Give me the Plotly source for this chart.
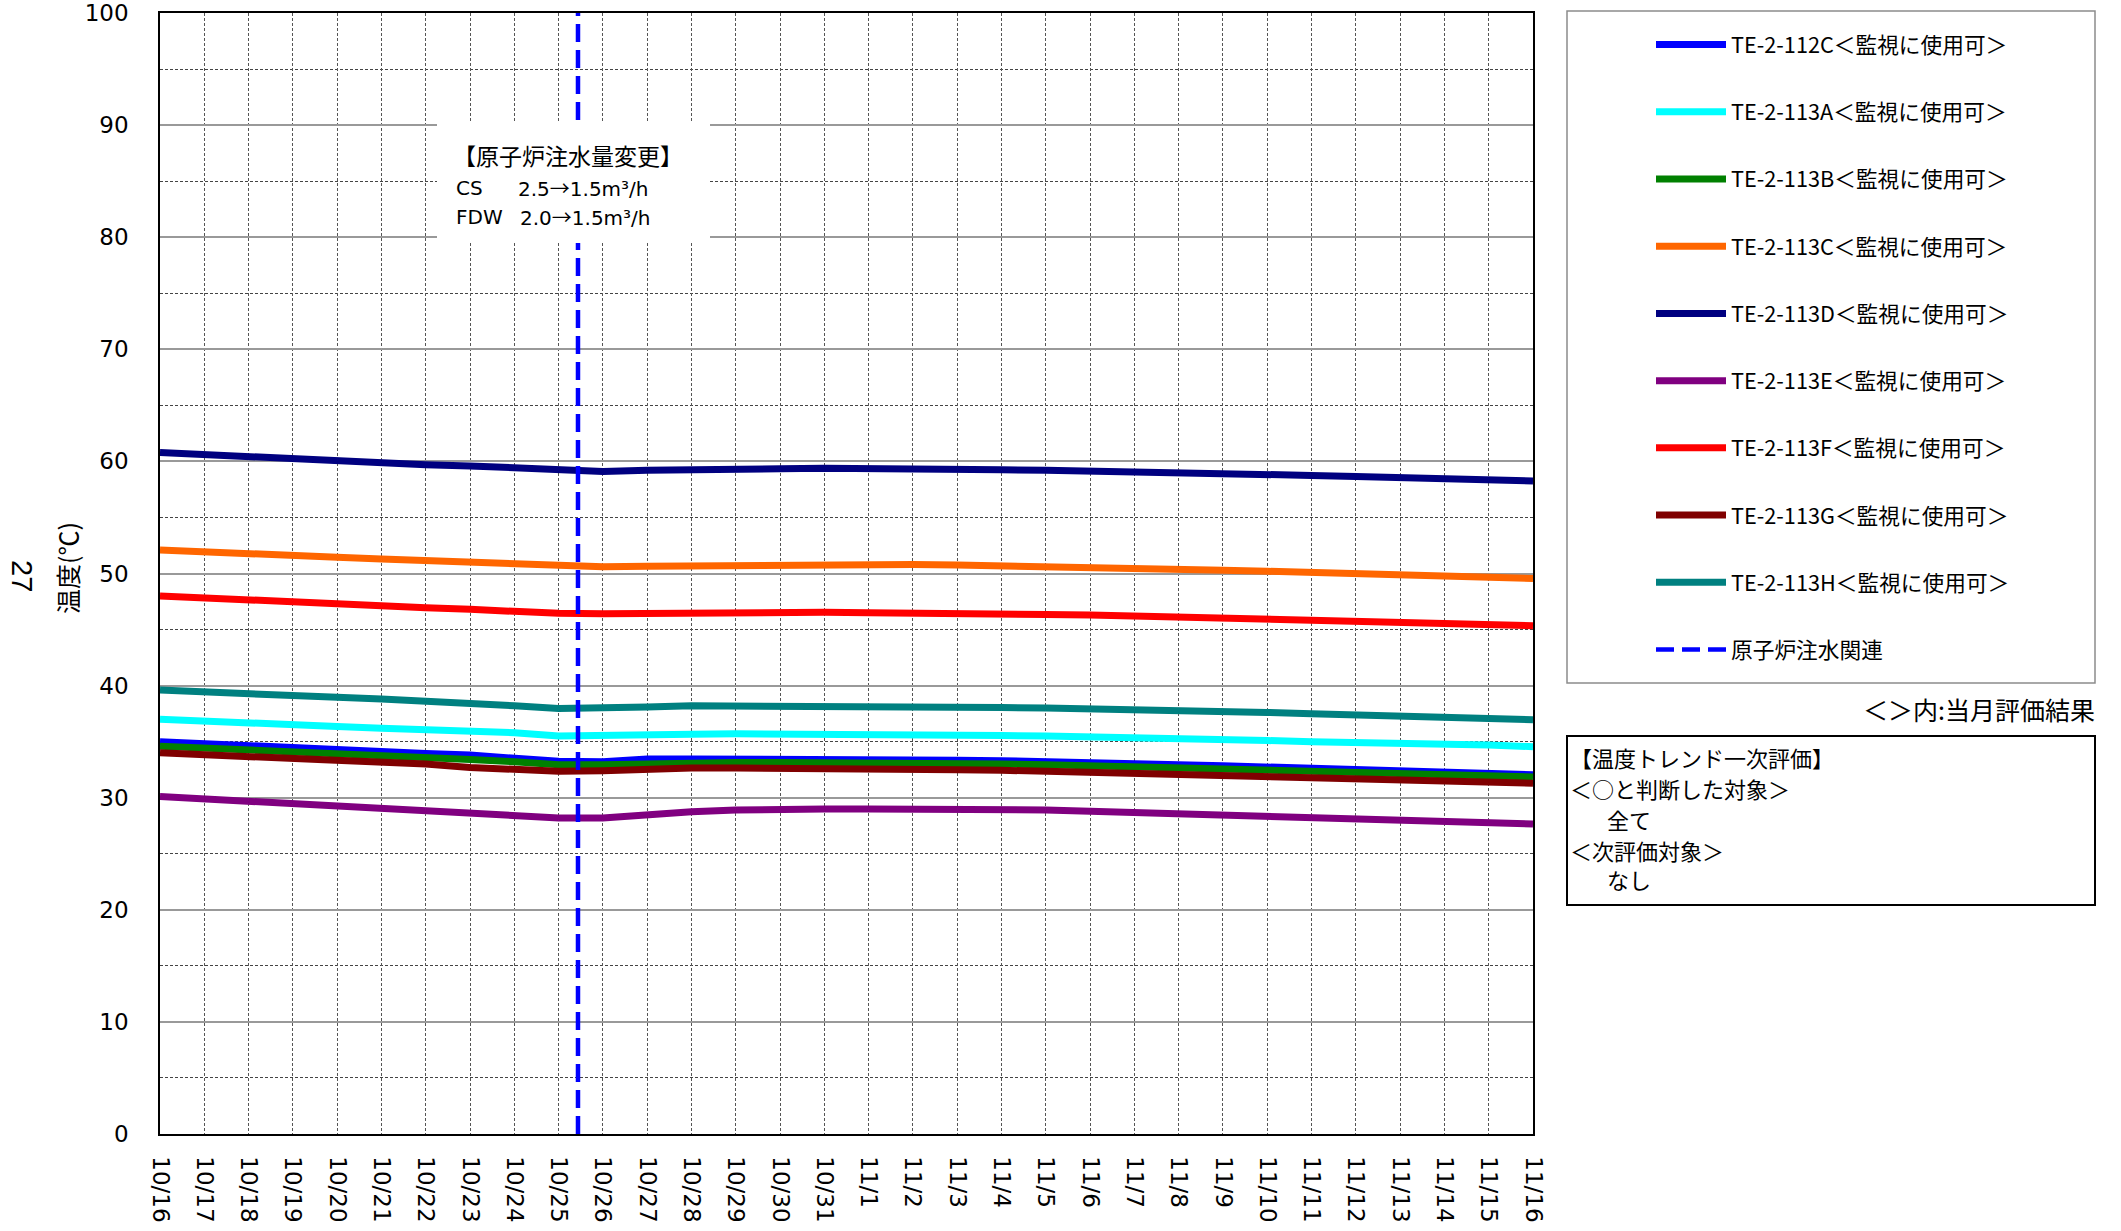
import pandas as pd
import plotly.graph_objects as go

# ---------------- data ----------------
dates = pd.date_range("2013-10-16", "2013-11-16", freq="D")
tick_labels = [f"{d.month}/{d.day}" for d in dates]
y_ticks = [0, 10, 20, 30, 40, 50, 60, 70, 80, 90, 100]

te_112c = [35.0, 34.8, 34.6, 34.45, 34.3, 34.1, 33.95, 33.8, 33.5, 33.25, 33.2, 33.45, 33.45, 33.45, 33.5, 33.5,
           33.45, 33.4, 33.35, 33.3, 33.25, 33.15, 33.05, 32.95, 32.85, 32.75, 32.6, 32.5, 32.4, 32.3, 32.15, 32.05]
te_113a = [37.0, 36.8, 36.65, 36.5, 36.35, 36.2, 36.05, 36.0, 35.8, 35.5, 35.5, 35.6, 35.65, 35.7, 35.7, 35.7,
           35.7, 35.65, 35.6, 35.55, 35.5, 35.45, 35.4, 35.35, 35.2, 35.1, 35.0, 34.95, 34.9, 34.8, 34.7, 34.55]
te_113b = [34.6, 34.45, 34.25, 34.1, 33.95, 33.8, 33.6, 33.4, 33.2, 32.95, 32.95, 33.05, 33.1, 33.15, 33.15, 33.15,
           33.15, 33.1, 33.05, 33.0, 32.95, 32.85, 32.75, 32.65, 32.55, 32.45, 32.35, 32.25, 32.15, 32.05, 31.95, 31.85]
te_113c = [52.1, 51.9, 51.8, 51.6, 51.45, 51.3, 51.15, 51.0, 50.85, 50.65, 50.6, 50.65, 50.7, 50.75, 50.8, 50.8,
           50.8, 50.8, 50.75, 50.7, 50.65, 50.55, 50.45, 50.4, 50.3, 50.2, 50.1, 50.0, 49.9, 49.8, 49.65, 49.55]
te_113d = [60.8, 60.6, 60.4, 60.2, 60.0, 59.9, 59.7, 59.6, 59.4, 59.2, 59.1, 59.2, 59.3, 59.3, 59.35, 59.4,
           59.4, 59.35, 59.3, 59.25, 59.2, 59.15, 59.05, 59.0, 58.9, 58.85, 58.75, 58.65, 58.55, 58.45, 58.35, 58.25]
te_113e = [30.1, 29.9, 29.7, 29.5, 29.3, 29.1, 28.95, 28.75, 28.5, 28.2, 28.2, 28.5, 28.75, 28.9, 29.0, 29.0,
           29.0, 29.0, 29.0, 28.95, 28.9, 28.8, 28.7, 28.6, 28.4, 28.3, 28.2, 28.1, 28.0, 27.85, 27.75, 27.65]
te_113f = [48.0, 47.8, 47.6, 47.45, 47.3, 47.1, 46.95, 46.8, 46.6, 46.45, 46.4, 46.45, 46.5, 46.55, 46.55, 46.55,
           46.5, 46.5, 46.45, 46.4, 46.35, 46.3, 46.2, 46.1, 46.0, 45.95, 45.85, 45.75, 45.65, 45.55, 45.45, 45.35]
te_113g = [34.0, 33.85, 33.65, 33.5, 33.3, 33.15, 33.0, 32.7, 32.55, 32.35, 32.4, 32.55, 32.65, 32.65, 32.65, 32.65,
           32.6, 32.55, 32.5, 32.45, 32.35, 32.25, 32.15, 32.05, 31.95, 31.85, 31.75, 31.65, 31.55, 31.45, 31.35, 31.3]
te_113h = [39.6, 39.4, 39.25, 39.1, 38.95, 38.8, 38.65, 38.5, 38.2, 37.95, 37.95, 38.1, 38.2, 38.2, 38.2, 38.2,
           38.2, 38.2, 38.15, 38.05, 38.0, 37.95, 37.85, 37.8, 37.7, 37.6, 37.5, 37.4, 37.3, 37.15, 37.05, 36.95]

series_names = [
    "TE-2-112C＜監視に使用可＞", "TE-2-113A＜監視に使用可＞", "TE-2-113B＜監視に使用可＞",
    "TE-2-113C＜監視に使用可＞", "TE-2-113D＜監視に使用可＞", "TE-2-113E＜監視に使用可＞",
    "TE-2-113F＜監視に使用可＞", "TE-2-113G＜監視に使用可＞", "TE-2-113H＜監視に使用可＞",
]
series_values = [te_112c, te_113a, te_113b, te_113c, te_113d, te_113e, te_113f, te_113g, te_113h]
series_colors = ["#0000FF", "#00FFFF", "#008000", "#FF6600", "#000080", "#800080", "#FF0000", "#800000", "#008080"]

event_name = "原子炉注水関連"
event_time = ["2013-10-25 10:30", "2013-10-25 10:30"]
event_y = [0, 100]

# ---------------- figure ----------------
W, H = 2121, 1231
L, R, T, B = 160, 1533, 13, 1134   # plot area in page pixels


def px(xp):
    return (xp - L) / (R - L)


def py(yp):
    return (B - yp) / (B - T)


JP = "Noto Sans CJK JP"
LAT = "DejaVu Sans"
ARROW = "<span style='font-family:Noto Sans CJK JP'>→</span>"

fig = go.Figure()
for i, (name, vals, col) in enumerate(zip(series_names, series_values, series_colors)):
    fig.add_trace(go.Scatter(x=dates, y=vals, mode="lines", name=name, legendgroup=f"g{i}",
                             line=dict(color=col, width=7)))
fig.add_trace(go.Scatter(x=pd.to_datetime(event_time), y=event_y, mode="lines", name=event_name,
                         legendgroup="ev", line=dict(color="#0000FF", width=4.5, dash="18px,8px")))

shapes = [
    dict(type="rect", xref="paper", yref="paper", x0=px(437), x1=px(710), y0=py(243), y1=py(122),
         fillcolor="white", line=dict(width=0), layer="above"),
    dict(type="rect", xref="paper", yref="paper", x0=px(1567), x1=px(2095), y0=py(683), y1=py(11),
         line=dict(color="#8c8c8c", width=1.5), fillcolor="rgba(0,0,0,0)"),
    dict(type="rect", xref="paper", yref="paper", x0=px(1567), x1=px(2095), y0=py(905), y1=py(736),
         line=dict(color="black", width=2), fillcolor="white"),
]

ann = []


def add_text(text, x, y, size, family=JP, xanchor="left", angle=0):
    ann.append(dict(text=text, xref="paper", yref="paper", x=x, y=y, xanchor=xanchor, yanchor="middle",
                    showarrow=False, textangle=angle, font=dict(family=family, size=size, color="black")))


add_text("【原子炉注水量変更】", px(451), py(155), 23)
add_text("CS", px(454), py(188), 20, LAT)
add_text("2.5" + ARROW + "1.5m³/h", px(516), py(188), 20, LAT)
add_text("FDW", px(454), py(217), 20, LAT)
add_text("2.0" + ARROW + "1.5m³/h", px(518), py(217), 20, LAT)

add_text("＜＞内:当月評価結果", px(2097), py(709), 25, xanchor="right")
add_text("【温度トレンド一次評価】", px(1568), py(757), 22)
add_text("＜○と判断した対象＞", px(1568), py(788), 22)
add_text("全て", px(1605), py(819), 22)
add_text("＜次評価対象＞", px(1568), py(850), 22)
add_text("なし", px(1605), py(879), 22)

add_text("温度(℃)", px(67), py(568), 25, xanchor="center", angle=-90)
add_text("27", px(22), py(576), 29, "Liberation Sans", xanchor="center", angle=90)

fig.update_layout(
    width=W, height=H, autosize=False,
    margin=dict(l=L, r=W - R, t=T, b=H - B, autoexpand=False),
    plot_bgcolor="white", paper_bgcolor="white",
    font=dict(family=JP, color="black"),
    shapes=shapes, annotations=ann,
    legend=dict(x=px(1651), y=py(24), xanchor="left", yanchor="top", bgcolor="rgba(0,0,0,0)",
                borderwidth=0, itemwidth=70, tracegroupgap=36,
                font=dict(family=JP, size=21.7, color="black")),
    xaxis=dict(
        type="date", range=[dates[0], dates[-1]], tickmode="array", tickvals=dates, ticktext=tick_labels,
        tickangle=90, tickfont=dict(family=LAT, size=23, color="black"), ticks="",
        ticklabelstandoff=16, ticklabeloverflow="allow",
        showgrid=True, gridcolor="#555555", gridwidth=1, griddash="3px,2px",
        showline=True, linecolor="black", linewidth=1.5, mirror=True, zeroline=False,
    ),
    yaxis=dict(
        range=[0, 100], tickmode="array", tickvals=y_ticks, ticktext=[str(v) for v in y_ticks], ticks="",
        tickfont=dict(family=LAT, size=23, color="black"), ticklabelstandoff=25, ticklabeloverflow="allow",
        showgrid=True, gridcolor="#999999", gridwidth=1.5,
        minor=dict(dtick=5, showgrid=True, gridcolor="#444444", gridwidth=1, griddash="3px,2px"),
        showline=True, linecolor="black", linewidth=1.5, mirror=True, zeroline=False,
    ),
)

# remove the default 8px body margin so the figure fills the window exactly
fig.write_html("out.html", config={"displayModeBar": False},
               post_script="document.body.style.margin='0px';")
